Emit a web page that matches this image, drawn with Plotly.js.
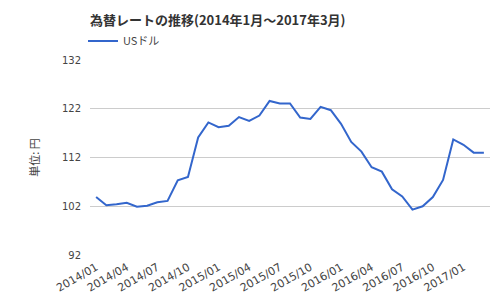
<!DOCTYPE html>
<html><head><meta charset="utf-8">
<script src="https://cdn.plot.ly/plotly-3.0.1.min.js"></script>
<style>html,body{margin:0;padding:0;background:#fff}#c{width:500px;height:300px}</style>
</head><body><div id="c"></div>
<script>
const months = [
 "2014/01","2014/02","2014/03","2014/04","2014/05","2014/06","2014/07","2014/08","2014/09","2014/10","2014/11","2014/12",
 "2015/01","2015/02","2015/03","2015/04","2015/05","2015/06","2015/07","2015/08","2015/09","2015/10","2015/11","2015/12",
 "2016/01","2016/02","2016/03","2016/04","2016/05","2016/06","2016/07","2016/08","2016/09","2016/10","2016/11","2016/12",
 "2017/01","2017/02","2017/03"];
const usd = [
 103.9,102.2,102.4,102.7,101.9,102.1,102.8,103.1,107.3,108.0,116.1,119.2,
 118.2,118.5,120.3,119.5,120.6,123.6,123.1,123.1,120.2,119.9,122.4,121.7,
 118.9,115.2,113.2,110.0,109.1,105.5,104.0,101.3,102.0,103.9,107.4,115.7,
 114.6,113.0,113.0];
const tickLabels = ["2014/01","2014/04","2014/07","2014/10","2015/01","2015/04","2015/07","2015/10","2016/01","2016/04","2016/07","2016/10","2017/01"];
const yTicks = [92,102,112,122,132];
const font = "'Noto Sans CJK JP', 'Noto Sans', sans-serif";
Plotly.newPlot('c', [{
  x: months, y: usd, type: 'scatter', mode: 'lines', name: 'USドル',
  line: {color: '#3366cc', width: 2}
}], {
  width: 500, height: 300,
  margin: {l: 90, r: 10, t: 60, b: 45, autoexpand: false},
  paper_bgcolor: '#fff', plot_bgcolor: '#fff',
  font: {family: font, size: 11, color: '#444'},
  title: {text: '<b>為替レートの推移(2014年1月～2017年3月)</b>', x: 90/500, xref: 'container', xanchor: 'left', y: 1 - 20/300, yref: 'container', yanchor: 'middle', font: {family: font, size: 13, color: '#333'}},
  showlegend: true,
  legend: {x: -0.0175, xanchor: 'left', y: 1 + 19/195, yanchor: 'middle', font: {family: font, size: 11, color: '#444'}, itemwidth: 30, borderwidth: 0, tracegroupgap: 0},
  xaxis: {type: 'category', range: [-0.6, 38.6], tickvals: tickLabels, ticktext: tickLabels, tickangle: -30, showgrid: false, zeroline: false, showline: false, ticks: '', automargin: false, ticklabelstandoff: 3, tickfont: {family: "DejaVu Sans", size: 11, color: '#444'}},
  yaxis: {range: [92, 132], tickvals: yTicks, showgrid: true, gridcolor: '#ccc', zeroline: false, showline: false, ticks: '', automargin: false, ticklabelstandoff: 8, tickfont: {family: "DejaVu Sans", size: 10, color: '#444'},
    title: {text: '単位: 円', standoff: 20, font: {family: font, size: 11, color: '#444'}}}
}, {displayModeBar: false, staticPlot: true});
</script></body></html>
